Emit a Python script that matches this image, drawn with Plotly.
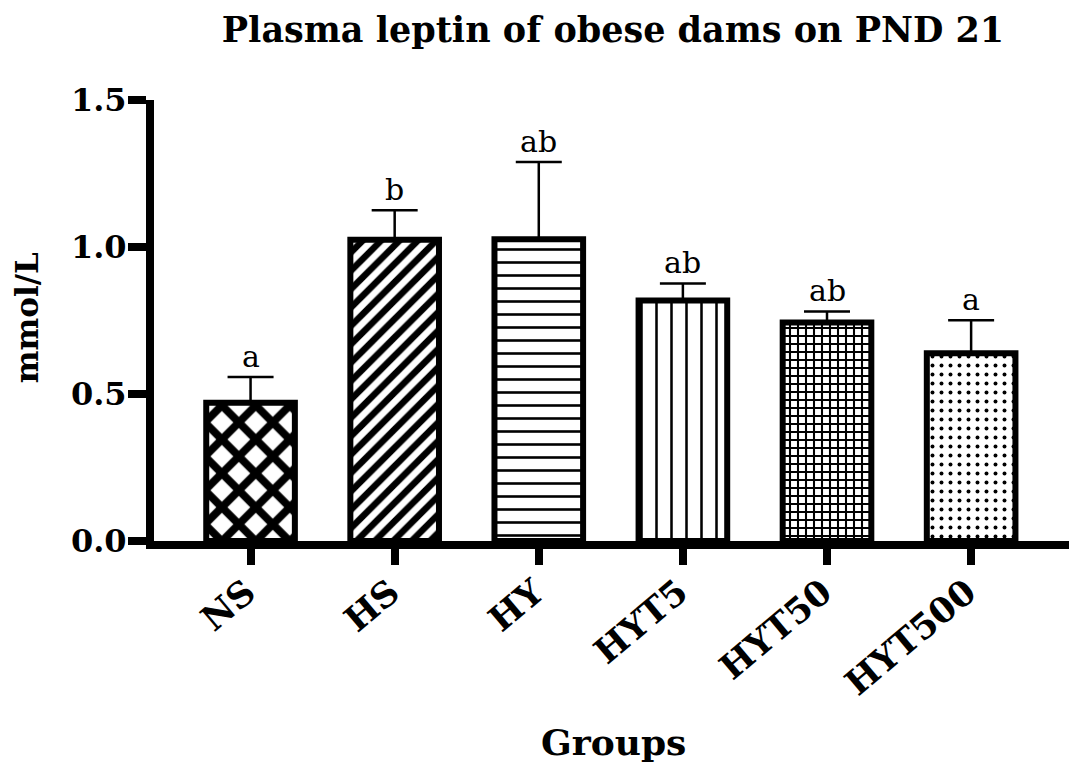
import plotly.graph_objects as go

groups = ["NS", "HS", "HY", "HYT5", "HYT50", "HYT500"]
means = [0.470, 1.025, 1.026, 0.818, 0.743, 0.639]
sems = [0.088, 0.100, 0.263, 0.058, 0.038, 0.112]
letters = ["a", "b", "ab", "ab", "ab", "a"]
y_ticks = [0.0, 0.5, 1.0, 1.5]
y_tick_text = ["0.0", "0.5", "1.0", "1.5"]

title_text = "Plasma leptin of obese dams on PND 21"
y_title = "mmol/L"
x_title = "Groups"

shapes = ["x", "/", "-", "|", "+", "."]
sizes = [24, 13, 13, 15, 8, 9]
solid = [0.55, 0.5, 0.2, 0.17, 0.45, 0.15]

SERIF = "DejaVu Serif"

# page body has an 8px default margin -> figure is laid out 8px left/up of the target
W, H = 1069, 758
L, T = 146, 92  # plot area: x 146..1064, y 92..533 in figure coords

fig = go.Figure()
for i, g in enumerate(groups):
    fig.add_trace(go.Bar(
        x=[g], y=[means[i]],
        width=0.615,
        marker=dict(
            color="white",
            line=dict(color="black", width=6),
            pattern=dict(shape=shapes[i], size=sizes[i], solidity=solid[i],
                         fgcolor="black", bgcolor="white", fillmode="replace"),
        ),
        error_y=dict(type="data", symmetric=False, array=[sems[i]], arrayminus=[0],
                     color="black", thickness=2.5, width=23),
        showlegend=False,
        hoverinfo="skip",
    ))

for i, g in enumerate(groups):
    fig.add_annotation(x=g, y=means[i] + sems[i], text=letters[i], showarrow=False,
                       yanchor="bottom", yshift=1,
                       font=dict(family=SERIF, size=30, color="black"))

fig.add_annotation(xref="paper", yref="paper", x=(19 - L) / 918, y=0.505, text="<b>" + y_title + "</b>",
                   textangle=-90, showarrow=False, xanchor="center", yanchor="middle",
                   font=dict(family=SERIF, size=31, color="black"))
fig.add_annotation(xref="paper", yref="paper", x=0.5, y=-0.456, text="<b>" + x_title + "</b>",
                   showarrow=False, xanchor="center", yanchor="middle",
                   font=dict(family=SERIF, size=36, color="black"))

fig.update_layout(
    width=W, height=H,
    margin=dict(l=L, r=W - L - 918, t=T, b=H - T - 441),
    paper_bgcolor="white", plot_bgcolor="white",
    title=dict(text="<b>" + title_text + "</b>", x=0.5, xref="paper", y=1,
               yref="container", yanchor="top", xanchor="center",
               pad=dict(t=9),
               font=dict(family=SERIF, size=35, color="black")),
    xaxis=dict(range=[-0.67, 5.70], showline=True, linecolor="black", linewidth=8,
               ticks="outside", ticklen=16, tickwidth=8, tickcolor="black",
               tickangle=-40, ticklabelshift=-4, ticklabelstandoff=-7,
               showgrid=False, zeroline=False, automargin=False,
               tickfont=dict(family=SERIF, size=35, color="black", weight="bold")),
    yaxis=dict(range=[0, 1.5], tickvals=y_ticks, ticktext=y_tick_text,
               showline=True, linecolor="black", linewidth=8,
               ticks="outside", ticklen=18, tickwidth=8, tickcolor="black",
               ticklabelstandoff=-5,
               showgrid=False, zeroline=False, automargin=False,
               tickfont=dict(family=SERIF, size=32, color="black", weight="bold")),
)

fig.write_html("out.html")
